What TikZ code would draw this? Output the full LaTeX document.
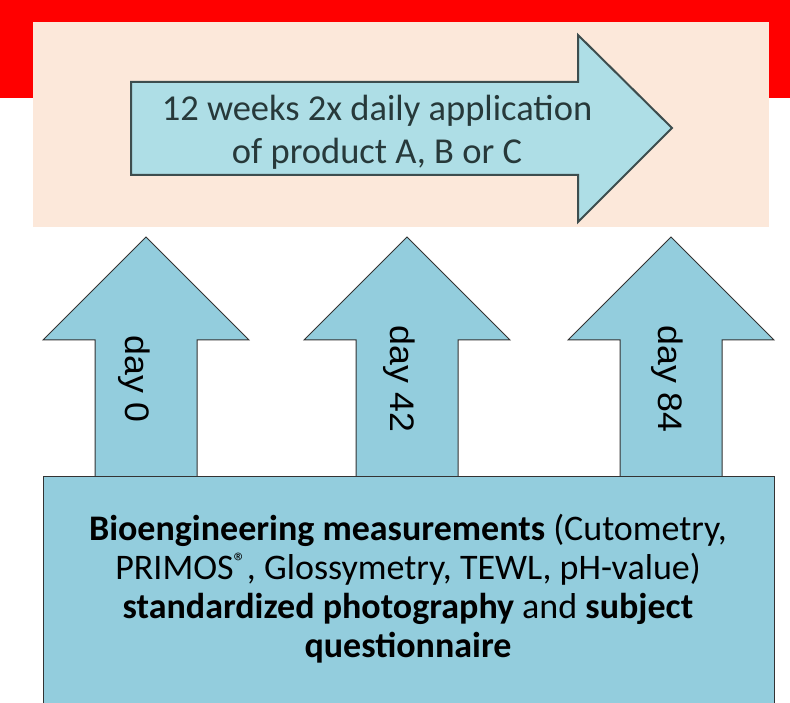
\documentclass[tikz,border=0pt]{standalone}
\usepackage{fontspec}
\setmainfont{Carlito}
\newfontfamily\arialfont[FakeStretch=1.05]{Liberation Sans}
\definecolor{bandred}{HTML}{FF0000}
\definecolor{peach}{HTML}{FCE8DA}
\definecolor{skyblue}{HTML}{93CDDD}
\definecolor{waterblue}{HTML}{AEDEE6}
\definecolor{inkgrey}{HTML}{27393A}
\begin{document}
\begin{tikzpicture}[
  x=1pt, y=-1pt,
  dayarrow/.style={draw=black!80, fill=skyblue, line width=1pt},
  daylabel/.style={rotate=-90, inner sep=0pt, font=\arialfont\fontsize{34}{40}\selectfont}
]
\useasboundingbox (0,0) rectangle (790,703);
\clip (0,0) rectangle (790,703);

\fill [bandred] (0,0) rectangle (790,98);
\fill [peach] (33,22) rectangle (769,227);

\draw [fill=waterblue, draw=inkgrey!90, line width=2pt]
  (131,82) -- (578,82) -- (578,35) -- (672,128) -- (578,222) -- (578,175) -- (131,175) -- cycle;
\node [align=center, text=inkgrey, font=\fontsize{36.5}{43}\selectfont] (treatment) at (377,132)
  {12 weeks 2x daily application\\of product A, B or C};

\foreach \cx/\lx/\d in {146/134.5/0, 407/399/42, 671/667/84} {
  \draw [dayarrow] (\cx-51,480) -- (\cx-51,340) -- (\cx-103,340) -- (\cx,237)
    -- (\cx+103,340) -- (\cx+51,340) -- (\cx+51,480) -- cycle;
  \node [daylabel] (day\d) at (\lx,379) {day \d};
}

\draw [dayarrow] (43,476) rectangle (774,720);
\node [align=center, font=\fontsize{36}{39}\selectfont] (measures) at (408,589)
  {\textbf{Bioengineering measurements} (Cutometry,\\
   PRIMOS\textsuperscript{®}, Glossymetry, TEWL, pH-value)\\
   \textbf{standardized photography} and \textbf{subject}\\
   \textbf{questionnaire}};
\end{tikzpicture}
\end{document}
